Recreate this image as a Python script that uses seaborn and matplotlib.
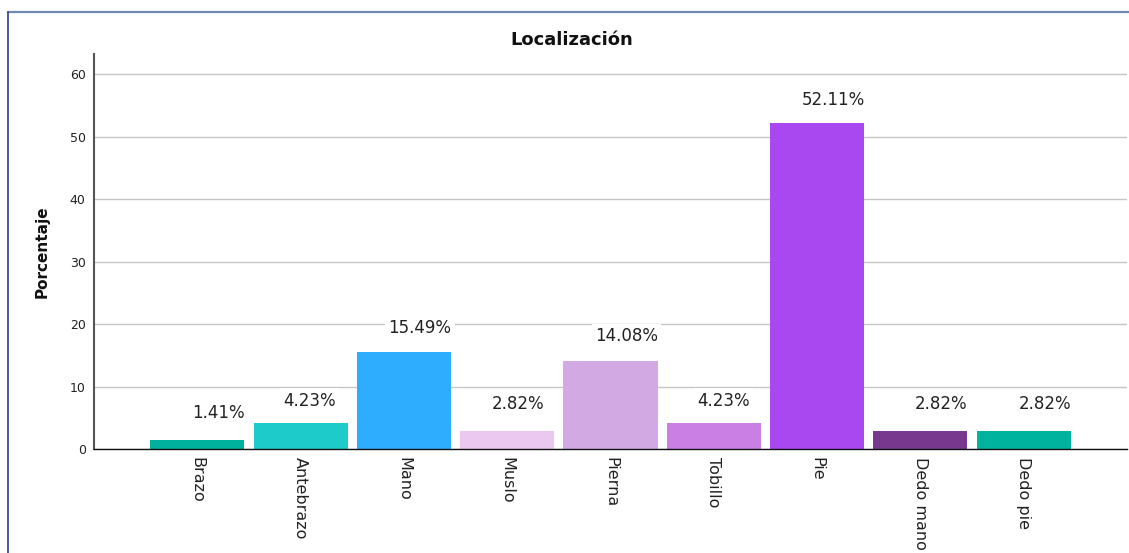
import matplotlib
matplotlib.use("Agg")
import matplotlib.pyplot as plt
import seaborn as sns
from matplotlib.lines import Line2D

# Data
locations = ["Brazo", "Antebrazo", "Mano", "Muslo", "Pierna",
             "Tobillo", "Pie", "Dedo mano", "Dedo pie"]
percentages = [1.41, 4.23, 15.49, 2.82, 14.08, 4.23, 52.11, 2.82, 2.82]
bar_colors = ["#00B29E", "#1ECBCB", "#2EADFF", "#EBC8EF", "#D2A9E3",
              "#CA7FE4", "#A947F1", "#78388E", "#00B39F"]
# small per-label nudges (pixels) to mimic the SPSS label placement
label_nudge = [(21, 27), (9, 22), (16, 24), (11, 27), (16, 25),
               (10, 22), (16, 23), (21, 27), (21, 27)]

sns.set_style("white")
plt.rcParams["font.family"] = ["DejaVu Sans"]

W, H = 1129, 553
fig = plt.figure(figsize=(W / 100, H / 100), dpi=100)
ax = fig.add_axes([94 / W, 1 - 449 / H, (1127 - 94) / W, (449 - 54) / H])

sns.barplot(x=locations, y=percentages, hue=locations, palette=bar_colors,
            width=0.91, saturation=1, legend=False, linewidth=0, ax=ax)

ax.set_xlim(-1.0, 9.0)
ax.set_ylim(0, 63.2)
ax.set_yticks([0, 10, 20, 30, 40, 50, 60])
ax.yaxis.grid(True, color="#C6C6C6", linewidth=1.0)
ax.set_axisbelow(True)

for side in ["top", "right"]:
    ax.spines[side].set_visible(False)
ax.spines["left"].set_color("#555555")
ax.spines["left"].set_linewidth(1.5)
ax.spines["bottom"].set_color("#111111")
ax.spines["bottom"].set_linewidth(1.0)

ax.set_xticks(range(len(locations)))
ax.set_xticklabels(locations, rotation=270, fontsize=11.5, color="#222222")
ax.tick_params(axis="x", length=0, pad=6)
ax.tick_params(axis="y", length=0, pad=6, labelsize=9, labelcolor="#222222")
ax.set_xlabel("")
ax.set_ylabel("")

for i, (v, (dx, dy)) in enumerate(zip(percentages, label_nudge)):
    ax.annotate(f"{v:.2f}%", xy=(i, v), xytext=(dx, dy),
                textcoords="offset pixels", ha="center", va="center",
                fontsize=12, color="#222222", zorder=5,
                bbox=dict(boxstyle="square,pad=0.2", fc="white", ec="none"))

fig.text(572 / W, 1 - 40 / H, "Localización", ha="center", va="center",
         fontsize=13, weight="bold", color="#111111")
fig.text(42 / W, 1 - 252 / H, "Porcentaje", ha="center", va="center",
         rotation=90, fontsize=11, weight="bold", color="#111111")

# outer frame of the output viewer
fig.add_artist(Line2D([8 / W, 1], [1 - 12 / H, 1 - 12 / H],
                      transform=fig.transFigure, color="#7489B2", lw=1.6))
fig.add_artist(Line2D([8 / W, 8 / W], [0, 1 - 12 / H],
                      transform=fig.transFigure, color="#2B3F8C", lw=1.2))

fig.savefig("out.png", dpi=100, facecolor="white")
